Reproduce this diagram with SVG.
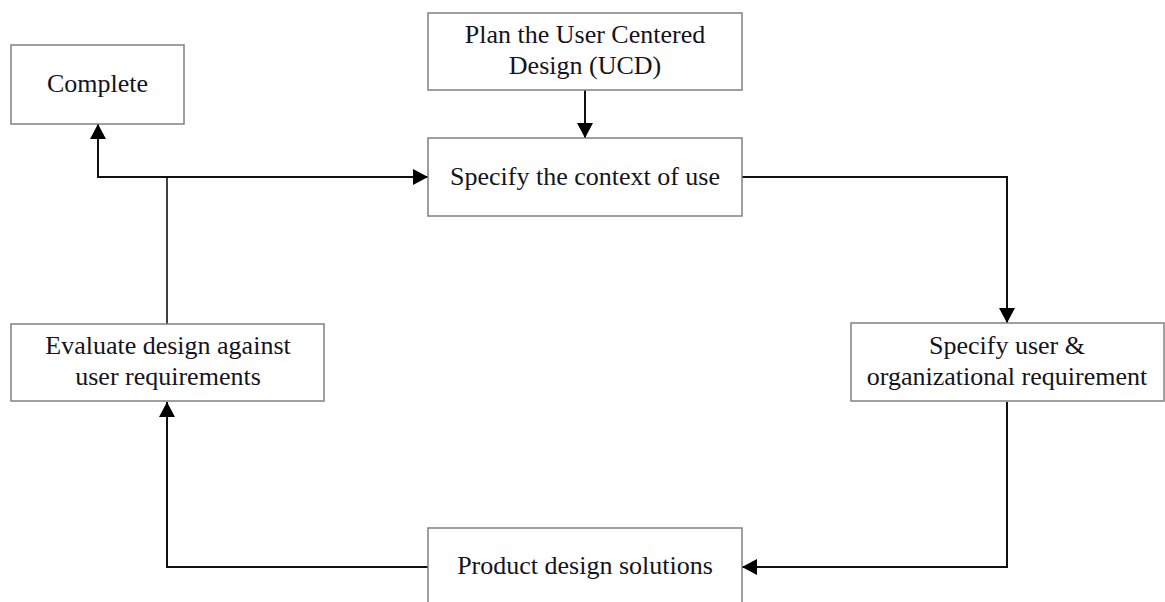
<svg xmlns="http://www.w3.org/2000/svg" width="1165" height="602" viewBox="0 0 1165 602">
  <style>
    .box { fill: #ffffff; stroke: #808080; stroke-width: 1.5; }
    .lbl { font-family: "Liberation Serif", "Times New Roman", serif; font-size: 26px; fill: #141420; text-anchor: middle; }
    .wire { fill: none; stroke: #111111; stroke-width: 2; }
    .wire-thin { fill: none; stroke: #111111; stroke-width: 1.6; }
  </style>
  <defs>
    <marker id="arrow" markerUnits="userSpaceOnUse" markerWidth="15" markerHeight="16" refX="15" refY="8" orient="auto">
      <path d="M0,0 L15,8 L0,16 Z" fill="#000000"/>
    </marker>
  </defs>
  <rect width="1165" height="602" fill="#ffffff"/>

  <!-- connectors -->
  <g id="connectors">
    <!-- plan -> context -->
    <line class="wire" x1="585" y1="90" x2="585" y2="138" marker-end="url(#arrow)"/>
    <!-- context -> user & organizational requirement -->
    <polyline class="wire" points="742,177 1007,177 1007,323" marker-end="url(#arrow)"/>
    <!-- requirement -> product design -->
    <polyline class="wire" points="1007,402 1007,567 742,567" marker-end="url(#arrow)"/>
    <!-- product design -> evaluate -->
    <polyline class="wire" points="428,567 167,567 167,402" marker-end="url(#arrow)"/>
    <!-- evaluate -> branch point -->
    <line class="wire-thin" x1="167" y1="324" x2="167" y2="177"/>
    <!-- branch -> context of use -->
    <line class="wire" x1="98" y1="177" x2="428" y2="177" marker-end="url(#arrow)"/>
    <!-- branch -> complete -->
    <polyline class="wire" points="168,177 98,177 98,124" marker-end="url(#arrow)"/>
  </g>

  <g id="complete">
    <rect class="box" x="11" y="45" width="173" height="79"/>
    <text class="lbl" x="97.5" y="92">Complete</text>
  </g>

  <g id="plan">
    <rect class="box" x="428" y="13" width="314" height="77"/>
    <text class="lbl" x="585" y="43">Plan the User Centered</text>
    <text class="lbl" x="585" y="74">Design (UCD)</text>
  </g>

  <g id="context">
    <rect class="box" x="428" y="138" width="314" height="78"/>
    <text class="lbl" x="585" y="185">Specify the context of use</text>
  </g>

  <g id="requirements">
    <rect class="box" x="851" y="323" width="313" height="78"/>
    <text class="lbl" x="1007" y="354">Specify user &amp;</text>
    <text class="lbl" x="1007" y="385">organizational requirement</text>
  </g>

  <g id="evaluate">
    <rect class="box" x="11" y="324" width="313" height="77"/>
    <text class="lbl" x="168" y="354">Evaluate design against</text>
    <text class="lbl" x="168" y="385">user requirements</text>
  </g>

  <g id="product">
    <rect class="box" x="428" y="528" width="314" height="100"/>
    <text class="lbl" x="585" y="574">Product design solutions</text>
  </g>
</svg>
